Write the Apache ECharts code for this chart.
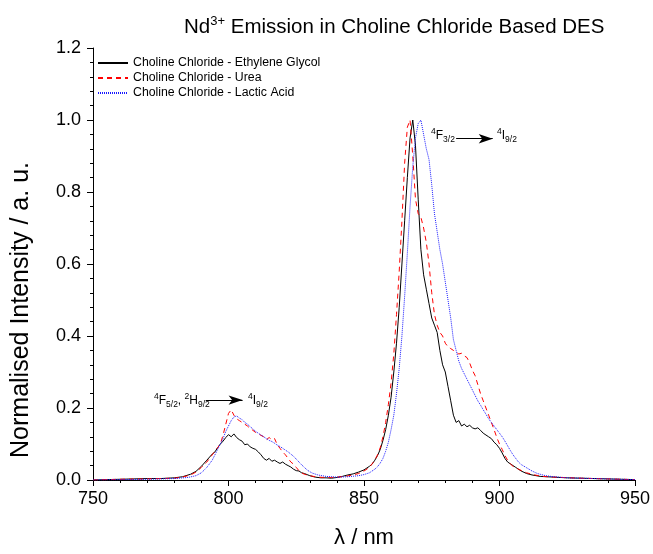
<!DOCTYPE html>
<html>
<head>
<meta charset="utf-8">
<script src="https://cdn.jsdelivr.net/npm/echarts@6/dist/echarts.min.js"></script>
<style>
  html, body { margin: 0; padding: 0; background: #fff; }
  #main { width: 653px; height: 554px; }
</style>
</head>
<body>
<div id="main"></div>
<script>
// spectra: [wavelength nm, normalised intensity]
const ethyleneGlycol = [
  [750,0],[755,0.001],[760,0.002],[765,0.003],[770,0.004],[775,0.004],[780,0.006],[783,0.009],
  [786,0.016],[788,0.024],[790,0.038],[792,0.055],[794,0.072],[795,0.078],[796,0.09],[797,0.1],
  [798,0.108],[799,0.118],[800,0.126],[801,0.12],[802,0.128],[803,0.118],[804,0.112],[805,0.108],
  [806,0.098],[807,0.1],[808,0.092],[809,0.088],[810,0.085],[811,0.078],[812,0.07],[813,0.06],
  [814,0.055],[815,0.06],[816,0.052],[817,0.055],[818,0.05],[819,0.046],[820,0.05],[821,0.044],
  [822,0.04],[823,0.036],[824,0.03],[825,0.026],[826,0.025],[827,0.02],[828,0.018],[829,0.015],
  [830,0.012],[832,0.008],[834,0.006],[836,0.006],[838,0.005],[840,0.007],[842,0.01],[844,0.014],
  [846,0.017],[848,0.022],[850,0.028],[852,0.038],[853,0.044],[854,0.055],[855,0.068],[856,0.085],
  [857,0.11],[858,0.14],[859,0.18],[860,0.23],[861,0.3],[862,0.38],[863,0.48],[864,0.6],
  [865,0.72],[866,0.84],[867,0.95],[868,1.0],[869,0.93],[870,0.78],[871,0.64],[872,0.57],
  [873,0.53],[874,0.49],[875,0.45],[876,0.43],[877,0.41],[878,0.36],[879,0.32],[880,0.3],
  [881,0.26],[882,0.22],[883,0.18],[884,0.16],[885,0.165],[886,0.15],[887,0.155],[888,0.148],
  [889,0.152],[890,0.145],[891,0.142],[892,0.145],[893,0.138],[894,0.13],[895,0.125],[896,0.12],
  [897,0.115],[898,0.105],[899,0.098],[900,0.088],[901,0.075],[902,0.06],[903,0.05],[904,0.045],
  [905,0.04],[906,0.035],[908,0.025],[910,0.018],[912,0.014],[915,0.01],[920,0.008],[925,0.006],
  [930,0.005],[935,0.004],[940,0.003],[945,0.002],[950,0.001]
];
const urea = [
  [750,0],[760,0.002],[770,0.003],[775,0.004],[780,0.005],[783,0.008],[786,0.014],[788,0.022],
  [790,0.035],[792,0.05],[794,0.07],[796,0.09],[797,0.1],[798,0.125],[799,0.155],[800,0.185],
  [801,0.195],[802,0.18],[803,0.17],[804,0.165],[805,0.16],[806,0.155],[807,0.15],[808,0.143],
  [809,0.138],[810,0.132],[811,0.128],[812,0.124],[813,0.12],[814,0.112],[815,0.118],[816,0.112],
  [817,0.115],[818,0.098],[819,0.088],[820,0.078],[821,0.07],[822,0.06],[823,0.05],[824,0.044],
  [825,0.035],[826,0.026],[827,0.02],[828,0.016],[830,0.012],[832,0.009],[835,0.007],[838,0.007],
  [840,0.008],[843,0.01],[846,0.014],[848,0.018],[850,0.025],[852,0.035],[853,0.045],[854,0.055],
  [855,0.07],[856,0.09],[857,0.12],[858,0.16],[859,0.21],[860,0.27],[861,0.35],[862,0.46],
  [863,0.58],[864,0.72],[865,0.88],[866,0.98],[867,1.0],[868,0.9],[869,0.78],[870,0.74],
  [871,0.73],[872,0.7],[873,0.66],[874,0.6],[875,0.52],[876,0.46],[877,0.43],[878,0.41],
  [879,0.4],[880,0.38],[881,0.37],[882,0.365],[883,0.36],[884,0.355],[885,0.35],[886,0.352],
  [887,0.345],[888,0.34],[889,0.325],[890,0.305],[891,0.29],[892,0.265],[893,0.24],[894,0.22],
  [895,0.2],[896,0.18],[897,0.16],[898,0.14],[899,0.118],[900,0.1],[901,0.085],[902,0.068],
  [903,0.055],[904,0.045],[905,0.038],[907,0.03],[910,0.02],[913,0.014],[916,0.01],[920,0.008],
  [930,0.005],[940,0.003],[950,0.001]
];
const lacticAcid = [
  [750,0],[760,0.001],[770,0.002],[780,0.004],[785,0.007],[788,0.012],[790,0.02],[792,0.035],
  [794,0.055],[796,0.085],[797,0.1],[798,0.115],[799,0.135],[800,0.15],[801,0.165],[802,0.175],
  [803,0.178],[804,0.172],[805,0.168],[806,0.16],[807,0.155],[808,0.148],[809,0.142],[810,0.135],
  [811,0.13],[812,0.125],[813,0.12],[814,0.115],[815,0.11],[816,0.107],[817,0.102],[818,0.097],
  [819,0.093],[820,0.088],[821,0.083],[822,0.078],[823,0.072],[824,0.066],[825,0.058],[826,0.05],
  [827,0.042],[828,0.035],[829,0.028],[830,0.023],[831,0.019],[833,0.014],[836,0.01],[840,0.008],
  [844,0.009],[848,0.012],[850,0.015],[852,0.02],[854,0.03],[855,0.037],[856,0.047],[857,0.06],
  [858,0.08],[859,0.105],[860,0.14],[861,0.18],[862,0.24],[863,0.31],[864,0.4],[865,0.51],
  [866,0.63],[867,0.76],[868,0.87],[869,0.95],[870,0.99],[871,1.0],[872,0.96],[873,0.92],
  [874,0.89],[875,0.82],[876,0.74],[877,0.69],[878,0.64],[879,0.6],[880,0.55],[881,0.5],
  [882,0.45],[883,0.39],[884,0.36],[885,0.33],[886,0.31],[887,0.295],[888,0.28],[889,0.265],
  [890,0.25],[891,0.235],[892,0.22],[893,0.208],[894,0.195],[895,0.183],[896,0.17],[897,0.16],
  [898,0.15],[899,0.14],[900,0.13],[901,0.12],[902,0.108],[903,0.095],[904,0.082],[905,0.07],
  [906,0.06],[907,0.05],[908,0.043],[910,0.034],[912,0.025],[914,0.018],[917,0.012],[920,0.009],
  [925,0.006],[930,0.005],[940,0.003],[950,0.001]
];
const seriesNames = ['Choline Chloride - Ethylene Glycol', 'Choline Chloride - Urea', 'Choline Chloride - Lactic Acid'];
// transition arrows [from nm, to nm, intensity]
const arrowHigh = [884, 897.5, 0.948];
const arrowLow = [791.6, 805.2, 0.222];

const FONT = 'Arial, "Liberation Sans", sans-serif';
const richAnno = {
  n: { fontSize: 12, fontFamily: FONT, color: '#000' },
  sup: { fontSize: 8.5, fontFamily: FONT, color: '#000', padding: [0, 0, 9, 0] },
  sub: { fontSize: 8.5, fontFamily: FONT, color: '#000', padding: [8, 0, 0, 0] }
};

function arrowLine(a) {
  return {
    symbol: ['none', 'arrow'],
    symbolSize: [7, 14],
    silent: true,
    label: { show: false },
    lineStyle: { color: '#000', width: 1, type: 'solid' },
    data: [[{ coord: [a[0], a[2]] }, { coord: [a[1], a[2]] }]]
  };
}

let myChart = echarts.init(document.getElementById('main'));
let option = {
  animation: false,
  backgroundColor: '#fff',
  title: {
    text: 'Nd{sup|3+} Emission in Choline Chloride Based DES',
    left: 179,
    top: 10,
    textStyle: {
      fontFamily: FONT, fontSize: 20.5, fontWeight: 'normal', color: '#000',
      rich: { sup: { fontFamily: FONT, fontSize: 13, color: '#000', padding: [0, 0, 11, 0] } }
    }
  },
  legend: {
    orient: 'vertical',
    left: 92,
    top: 52,
    itemWidth: 30,
    itemHeight: 10,
    itemGap: 3,
    itemStyle: { opacity: 0 },
    textStyle: { fontFamily: FONT, fontSize: 12.3, color: '#000' },
    data: seriesNames
  },
  grid: { left: 93, right: 14, top: 48, bottom: 68 },
  xAxis: {
    type: 'value',
    min: 750, max: 950, interval: 50,
    name: 'λ / nm',
    nameLocation: 'middle',
    nameGap: 47,
    nameTextStyle: { fontFamily: FONT, fontSize: 22, color: '#000' },
    axisLine: { onZero: false, lineStyle: { color: '#000', width: 1 } },
    axisTick: { length: 6, lineStyle: { color: '#000' } },
    minorTick: { show: true, splitNumber: 5, length: 3, lineStyle: { color: '#000' } },
    axisLabel: { fontFamily: FONT, fontSize: 18, color: '#000', margin: 10 },
    splitLine: { show: false }
  },
  yAxis: {
    type: 'value',
    min: 0, max: 1.2, interval: 0.2,
    axisLine: { show: true, onZero: false, lineStyle: { color: '#000', width: 1 } },
    axisTick: { show: true, length: 6, lineStyle: { color: '#000' } },
    minorTick: { show: true, splitNumber: 5, length: 3, lineStyle: { color: '#000' } },
    axisLabel: { fontFamily: FONT, fontSize: 18, color: '#000', margin: 12,
      formatter: function (v) { return v.toFixed(1); } },
    splitLine: { show: false }
  },
  series: [
    {
      name: seriesNames[0], type: 'line', data: ethyleneGlycol, symbol: 'none',
      lineStyle: { color: '#000', width: 1 }, itemStyle: { color: '#000' },
      markLine: arrowLine(arrowHigh)
    },
    {
      name: seriesNames[1], type: 'line', data: urea, symbol: 'none',
      lineStyle: { color: '#ff0000', width: 1, type: [5, 4] }, itemStyle: { color: '#ff0000' },
      markLine: arrowLine(arrowLow)
    },
    {
      name: seriesNames[2], type: 'line', data: lacticAcid, symbol: 'none',
      lineStyle: { color: '#1a1aff', width: 1, type: [1, 1] }, itemStyle: { color: '#1a1aff' }
    }
  ],
  graphic: [
    {
      type: 'text', x: 21, y: 310, rotation: Math.PI / 2,
      style: { text: 'Normalised Intensity / a. u.', font: '25px ' + FONT, fill: '#000',
        align: 'center', verticalAlign: 'middle' }
    },
    { type: 'text', left: 431, top: 127, style: { text: '{sup|4}{n|F}{sub|3/2}', rich: richAnno } },
    { type: 'text', left: 497, top: 127, style: { text: '{sup|4}{n|I}{sub|9/2}', rich: richAnno } },
    { type: 'text', left: 154, top: 392, style: { text: '{sup|4}{n|F}{sub|5/2}{n|, }{sup|2}{n|H}{sub|9/2}', rich: richAnno } },
    { type: 'text', left: 248, top: 392, style: { text: '{sup|4}{n|I}{sub|9/2}', rich: richAnno } }
  ]
};
myChart.setOption(option);
</script>
</body>
</html>
